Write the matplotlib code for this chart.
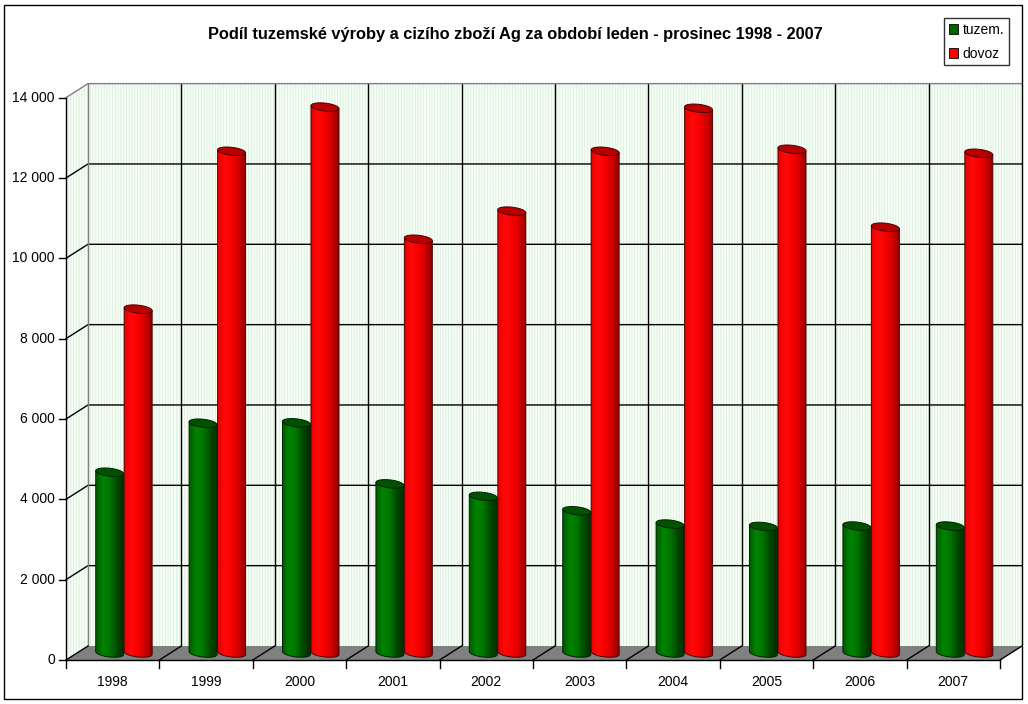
import numpy as np
import matplotlib
matplotlib.use('Agg')
import matplotlib.pyplot as plt
from matplotlib.patches import Polygon, Patch
from matplotlib.colors import LinearSegmentedColormap

plt.rcParams['font.family'] = ['Liberation Sans', 'DejaVu Sans']
plt.rcParams['hatch.linewidth'] = 0.6

# data
years = ['1998', '1999', '2000', '2001', '2002', '2003', '2004', '2005', '2006', '2007']
tuzem = [4500, 5720, 5730, 4210, 3900, 3540, 3210, 3150, 3160, 3160]
dovoz = [8560, 12490, 13590, 10300, 11000, 12490, 13560, 12540, 10600, 12440]
yticks = [0, 2000, 4000, 6000, 8000, 10000, 12000, 14000]
ytick_labels = ['0', '2 000', '4 000', '6 000', '8 000', '10 000', '12 000', '14 000']
title = 'Podíl tuzemské výroby a cizího zboží Ag za období leden - prosinec 1998 - 2007'

# pixel geometry of the front plane (reference 1028x704)
W, H = 1028, 704
X0, CAT_PX = 66, 93.4      # left edge of the front plane, px per category
Y0, VAL_PX = 660, 0.04017  # zero line, px per unit
n = len(years)
DX = 22 / CAT_PX           # depth offset in data units
DY = 14 / VAL_PX
YMAX = 14000

fig = plt.figure(figsize=(W / 100, H / 100), dpi=100)
ax = fig.add_axes([0, 0, 1, 1])
ax.set_xlim(-X0 / CAT_PX, (W - X0) / CAT_PX)
ax.set_ylim(-(H - Y0) / VAL_PX, Y0 / VAL_PX)
ax.axis('off')

px = 1 / CAT_PX   # one pixel in x data units
py = 1 / VAL_PX   # one pixel in y data units

# walls
wall_kw = dict(facecolor='#f6fdf6', edgecolor='#dcefdc', hatch='||||||', lw=0, zorder=1)
ax.add_patch(Polygon([(DX, DY), (n + DX, DY), (n + DX, YMAX + DY), (DX, YMAX + DY)], **wall_kw))
ax.add_patch(Polygon([(0, 0), (DX, DY), (DX, YMAX + DY), (0, YMAX)], **wall_kw))

# back wall gridlines
for v in yticks[1:-1]:
    ax.plot([0, DX, n + DX], [v, v + DY, v + DY], color='black', lw=1, zorder=2)
for i in range(1, n):
    ax.plot([i + DX, i + DX], [DY, YMAX + DY], color='black', lw=1, zorder=2)
ax.plot([0, DX, n + DX], [YMAX, YMAX + DY, YMAX + DY], color='#808080', lw=1, zorder=2)
ax.plot([DX, DX], [DY, YMAX + DY], color='#808080', lw=1, zorder=2)

# floor
ax.add_patch(Polygon([(0, 0), (n, 0), (n + DX, DY), (DX, DY)], facecolor='#808080',
                     edgecolor='none', zorder=3))
for i in range(n + 1):
    ax.plot([i, i + DX], [0, DY], color='black', lw=1, zorder=3)

# front axes
ax.plot([0, 0], [0, YMAX], color='black', lw=1, zorder=4)
ax.plot([0, n], [0, 0], color='black', lw=1, zorder=4)
for v, lab in zip(yticks, ytick_labels):
    ax.plot([-7 * px, 0], [v, v], color='black', lw=1, zorder=4)
    ax.text(-11 * px, v, lab, ha='right', va='center', fontsize=10)
for i in range(n + 1):
    ax.plot([i, i], [0, -8 * py], color='black', lw=1, zorder=4)
for i, y in enumerate(years):
    ax.text(i + 0.5, -22 * py, y, ha='center', va='center', fontsize=10)

# cylinders
green_cmap = LinearSegmentedColormap.from_list('g', ['#005a00', '#008400', '#007400', '#004800', '#002e00'])
red_cmap = LinearSegmentedColormap.from_list('r', ['#e80000', '#ff0a0a', '#f80000', '#d00000', '#900000'])
R = 14 * px
HH = 4 * py
TILT = 1.5 * py


def cylinder(xc, value, cmap, top_color, edge, z):
    base = DY / 2
    top = value + DY / 2
    t = np.linspace(np.pi, 2 * np.pi, 40)
    bx = xc + R * np.cos(t)
    by = base + HH * np.sin(t) - TILT * np.cos(t)
    body = [(xc - R, top + TILT)] + list(zip(bx, by)) + [(xc + R, top - TILT)]
    body_patch = Polygon(body, closed=True, facecolor='none', edgecolor=edge, lw=0.7, zorder=z + 0.2)
    ax.add_patch(body_patch)
    grad = cmap(np.linspace(0, 1, 64))[None, :, :3]
    im = ax.imshow(grad, extent=[xc - R, xc + R, base - HH - 2 * TILT, top + HH + 2 * TILT],
                   aspect='auto', interpolation='bilinear', zorder=z)
    im.set_clip_path(body_patch)
    tt = np.linspace(0, 2 * np.pi, 60)
    tx = xc + R * np.cos(tt)
    ty = top + HH * np.sin(tt) - TILT * np.cos(tt)
    ax.add_patch(Polygon(list(zip(tx, ty)), closed=True, facecolor=top_color,
                         edgecolor=edge, lw=0.7, zorder=z + 0.3))


for i in range(n):
    c = i + 0.5 + DX / 2
    cylinder(c - 0.15, tuzem[i], green_cmap, '#005200', '#002000', 5 + i)
    cylinder(c + 0.155, dovoz[i], red_cmap, '#b80000', '#4a0000', 5.5 + i)

ax.set_ylim(-(H - Y0) / VAL_PX, Y0 / VAL_PX)
ax.set_xlim(-X0 / CAT_PX, (W - X0) / CAT_PX)

# title and legend
fig.text(515 / W, 1 - 34 / H, title, ha='center', va='center', fontsize=11.8, fontweight='bold')
handles = [Patch(facecolor='#006400', edgecolor='black', lw=0.6, label='tuzem.'),
           Patch(facecolor='#ff0000', edgecolor='black', lw=0.6, label='dovoz')]
leg = fig.legend(handles=handles, loc='upper right', bbox_to_anchor=(1009 / W, 1 - 18 / H),
                 fontsize=10, frameon=True, fancybox=False, edgecolor='black',
                 handlelength=0.7, handleheight=0.7, handletextpad=0.3,
                 labelspacing=0.7, borderpad=0.35, borderaxespad=0)
leg.get_frame().set_linewidth(1)

# outer frame
fig.patches.append(plt.Rectangle((4 / W, 5 / H), 1018 / W, 694 / H, transform=fig.transFigure,
                                 fill=False, edgecolor='black', lw=1))

fig.savefig('out.png', dpi=100)
